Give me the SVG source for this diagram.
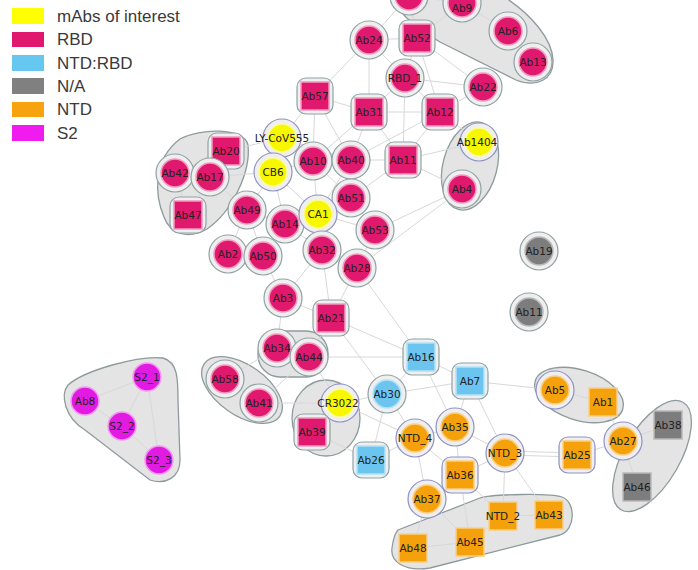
<svg xmlns="http://www.w3.org/2000/svg" width="698" height="570" viewBox="0 0 698 570">
<style>
.bg{fill:#ffffff}
.ring{fill:#efefef;stroke:#90a2a5;stroke-width:1.2}
.ringy{fill:#efefef;stroke:#8f92c4;stroke-width:1.2}
.rbd{fill:#e0186e;stroke:#f29abf;stroke-width:1.5}
.yel{fill:#f7f700;stroke:#fbfb9a;stroke-width:1.5}
.blu{fill:#6cc5ef;stroke:#b4e2f7;stroke-width:1.5}
.gry{fill:#7d7d7d;stroke:#b9b9b9;stroke-width:1.5}
.org{fill:#f5a10c;stroke:#f9cf85;stroke-width:1.5}
.s2{fill:#e21be2;stroke:#f29af2;stroke-width:1.5}
.lbl{font-family:"DejaVu Sans",sans-serif;font-size:10.5px;fill:#222222;text-anchor:middle;dominant-baseline:central}
.leg{font-family:"Liberation Sans",Arial,sans-serif;font-size:17px;fill:#3a3a3a}
.e{stroke:#d8d8d8;stroke-width:1;fill:none}
.blob{fill:#e4e4e4;stroke:#8e9b9d;stroke-width:1.3}
</style>
<rect class="bg" x="0" y="0" width="698" height="570"/>

<g id="legend">
<rect x="12" y="8" width="32" height="16" fill="#ffff00"/><text class="leg" x="57" y="22">mAbs of interest</text>
<rect x="12" y="32" width="32" height="15" fill="#e0186e"/><text class="leg" x="57" y="45">RBD</text>
<rect x="12" y="55" width="32" height="16" fill="#66c7f0"/><text class="leg" x="57" y="69">NTD:RBD</text>
<rect x="12" y="78" width="32" height="16" fill="#808080"/><text class="leg" x="57" y="92">N/A</text>
<rect x="12" y="102" width="32" height="15" fill="#f7a30f"/><text class="leg" x="57" y="115">NTD</text>
<rect x="12" y="125" width="32" height="16" fill="#ef1bef"/><text class="leg" x="57" y="139">S2</text>
</g>

<g id="clusters">
<path class="blob" d="M 392 -2 L 506 -2 C 530 14 552 38 553 60 C 554 80 536 88 516 80 L 440 42 C 420 30 400 16 392 -2 Z"/>
<ellipse class="blob" cx="470" cy="166" rx="27" ry="45" transform="rotate(15 470 166)"/>
<path class="blob" d="M 180 139 C 200 128 244 127 248 145 C 251 172 232 212 207 229 C 188 240 170 234 164 217 C 155 196 152 160 180 139 Z"/>
<rect class="blob" x="258" y="331" width="70" height="46" rx="22"/>
<ellipse class="blob" cx="242" cy="390" rx="46" ry="25" transform="rotate(35 242 390)"/>
<ellipse class="blob" cx="326" cy="418" rx="34" ry="38"/>
<path class="blob" d="M 68 385 C 85 370 140 355 163 358 C 178 362 178 380 178 400 L 180 460 C 180 478 165 485 150 480 L 85 430 C 65 418 60 395 68 385 Z"/>
<ellipse class="blob" cx="579" cy="395" rx="46" ry="25" transform="rotate(18 579 395)"/>
<ellipse class="blob" cx="652" cy="456" rx="62" ry="28" transform="rotate(-60 652 456)"/>
<path class="blob" d="M 398 530 L 480 498 C 492 494 550 493 562 497 C 576 502 576 530 560 535 L 430 568 C 405 572 390 562 392 548 C 393 540 395 533 398 530 Z"/>
</g>

<g id="connectors" class="e">
<line x1="369" y1="40" x2="417" y2="38"/>
<line x1="369" y1="40" x2="315" y2="96"/>
<line x1="369" y1="40" x2="369" y2="112"/>
<line x1="369" y1="40" x2="405" y2="78"/>
<line x1="369" y1="40" x2="409" y2="-4"/>
<line x1="417" y1="38" x2="405" y2="78"/>
<line x1="417" y1="38" x2="440" y2="112"/>
<line x1="417" y1="38" x2="483" y2="87"/>
<line x1="417" y1="38" x2="462" y2="3"/>
<line x1="417" y1="38" x2="409" y2="-4"/>
<line x1="409" y1="-4" x2="462" y2="3"/>
<line x1="462" y1="3" x2="508" y2="31"/>
<line x1="508" y1="31" x2="533" y2="62"/>
<line x1="405" y1="78" x2="369" y2="112"/>
<line x1="405" y1="78" x2="440" y2="112"/>
<line x1="405" y1="78" x2="403" y2="160"/>
<line x1="405" y1="78" x2="483" y2="87"/>
<line x1="315" y1="96" x2="369" y2="112"/>
<line x1="315" y1="96" x2="282" y2="138"/>
<line x1="315" y1="96" x2="313" y2="161"/>
<line x1="315" y1="96" x2="351" y2="160"/>
<line x1="369" y1="112" x2="313" y2="161"/>
<line x1="369" y1="112" x2="351" y2="160"/>
<line x1="369" y1="112" x2="440" y2="112"/>
<line x1="369" y1="112" x2="403" y2="160"/>
<line x1="440" y1="112" x2="403" y2="160"/>
<line x1="440" y1="112" x2="351" y2="160"/>
<line x1="440" y1="112" x2="479" y2="142"/>
<line x1="483" y1="87" x2="440" y2="112"/>
<line x1="403" y1="160" x2="351" y2="160"/>
<line x1="403" y1="160" x2="351" y2="198"/>
<line x1="403" y1="160" x2="462" y2="189"/>
<line x1="403" y1="160" x2="479" y2="142"/>
<line x1="282" y1="138" x2="273" y2="172"/>
<line x1="282" y1="138" x2="313" y2="161"/>
<line x1="282" y1="138" x2="226" y2="151"/>
<line x1="282" y1="138" x2="351" y2="160"/>
<line x1="273" y1="172" x2="210" y2="177"/>
<line x1="273" y1="172" x2="313" y2="161"/>
<line x1="273" y1="172" x2="285" y2="224"/>
<line x1="273" y1="172" x2="247" y2="210"/>
<line x1="273" y1="172" x2="318" y2="214"/>
<line x1="313" y1="161" x2="351" y2="160"/>
<line x1="313" y1="161" x2="318" y2="214"/>
<line x1="313" y1="161" x2="351" y2="198"/>
<line x1="351" y1="160" x2="351" y2="198"/>
<line x1="351" y1="160" x2="318" y2="214"/>
<line x1="351" y1="198" x2="318" y2="214"/>
<line x1="351" y1="198" x2="375" y2="230"/>
<line x1="318" y1="214" x2="285" y2="224"/>
<line x1="318" y1="214" x2="322" y2="250"/>
<line x1="318" y1="214" x2="375" y2="230"/>
<line x1="247" y1="210" x2="285" y2="224"/>
<line x1="247" y1="210" x2="228" y2="254"/>
<line x1="247" y1="210" x2="263" y2="256"/>
<line x1="285" y1="224" x2="263" y2="256"/>
<line x1="285" y1="224" x2="322" y2="250"/>
<line x1="228" y1="254" x2="263" y2="256"/>
<line x1="322" y1="250" x2="357" y2="268"/>
<line x1="375" y1="230" x2="357" y2="268"/>
<line x1="375" y1="230" x2="462" y2="189"/>
<line x1="357" y1="268" x2="462" y2="189"/>
<line x1="263" y1="256" x2="283" y2="298"/>
<line x1="322" y1="250" x2="331" y2="318"/>
<line x1="357" y1="268" x2="331" y2="318"/>
<line x1="283" y1="298" x2="331" y2="318"/>
<line x1="283" y1="298" x2="277" y2="348"/>
<line x1="322" y1="250" x2="283" y2="298"/>
<line x1="331" y1="318" x2="309" y2="357"/>
<line x1="331" y1="318" x2="421" y2="357"/>
<line x1="357" y1="268" x2="421" y2="357"/>
<line x1="331" y1="318" x2="387" y2="394"/>
<line x1="309" y1="357" x2="421" y2="357"/>
<line x1="309" y1="357" x2="340" y2="403"/>
<line x1="277" y1="348" x2="225" y2="379"/>
<line x1="277" y1="348" x2="309" y2="357"/>
<line x1="309" y1="357" x2="259" y2="403"/>
<line x1="259" y1="403" x2="340" y2="403"/>
<line x1="225" y1="379" x2="259" y2="403"/>
<line x1="340" y1="403" x2="387" y2="394"/>
<line x1="340" y1="403" x2="312" y2="432"/>
<line x1="340" y1="403" x2="415" y2="438"/>
<line x1="312" y1="432" x2="371" y2="460"/>
<line x1="387" y1="394" x2="421" y2="357"/>
<line x1="387" y1="394" x2="470" y2="381"/>
<line x1="421" y1="357" x2="470" y2="381"/>
<line x1="387" y1="394" x2="415" y2="438"/>
<line x1="387" y1="394" x2="371" y2="460"/>
<line x1="421" y1="357" x2="455" y2="427"/>
<line x1="470" y1="381" x2="455" y2="427"/>
<line x1="470" y1="381" x2="505" y2="453"/>
<line x1="470" y1="381" x2="555" y2="390"/>
<line x1="371" y1="460" x2="415" y2="438"/>
<line x1="415" y1="438" x2="455" y2="427"/>
<line x1="415" y1="438" x2="460" y2="475"/>
<line x1="415" y1="438" x2="427" y2="499"/>
<line x1="455" y1="427" x2="460" y2="475"/>
<line x1="455" y1="427" x2="505" y2="453"/>
<line x1="505" y1="451" x2="577" y2="453"/>
<line x1="505" y1="455" x2="577" y2="457"/>
<line x1="505" y1="453" x2="460" y2="475"/>
<line x1="505" y1="453" x2="503" y2="516"/>
<line x1="505" y1="453" x2="549" y2="515"/>
<line x1="460" y1="475" x2="427" y2="499"/>
<line x1="427" y1="499" x2="470" y2="542"/>
<line x1="427" y1="499" x2="413" y2="548"/>
<line x1="460" y1="475" x2="503" y2="516"/>
<line x1="460" y1="475" x2="470" y2="542"/>
<line x1="555" y1="390" x2="603" y2="402"/>
<line x1="603" y1="402" x2="623" y2="441"/>
<line x1="623" y1="441" x2="668" y2="425"/>
<line x1="623" y1="441" x2="637" y2="487"/>
<line x1="577" y1="455" x2="623" y2="441"/>
<line x1="503" y1="516" x2="549" y2="515"/>
<line x1="470" y1="542" x2="503" y2="516"/>
<line x1="413" y1="548" x2="470" y2="542"/>
<line x1="226" y1="151" x2="175" y2="173"/>
<line x1="226" y1="151" x2="210" y2="177"/>
<line x1="175" y1="173" x2="210" y2="177"/>
<line x1="210" y1="177" x2="188" y2="215"/>
<line x1="175" y1="173" x2="188" y2="215"/>
<line x1="210" y1="177" x2="247" y2="210"/>
<line x1="85" y1="401" x2="147" y2="377"/>
<line x1="85" y1="401" x2="122" y2="426"/>
<line x1="147" y1="377" x2="122" y2="426"/>
<line x1="147" y1="377" x2="159" y2="460"/>
<line x1="122" y1="426" x2="159" y2="460"/>
</g>

<g id="n_T1"><circle class="ring" cx="409" cy="-4" r="19"/><circle class="rbd" cx="409" cy="-4" r="14"/></g>
<g id="n_T2"><circle class="ring" cx="462" cy="3" r="19"/><circle class="rbd" cx="462" cy="3" r="14"/><text class="lbl" x="462" y="8">Ab9</text></g>
<g id="n_Ab6"><circle class="ring" cx="508" cy="31" r="19"/><circle class="rbd" cx="508" cy="31" r="14"/><text class="lbl" x="508" y="31">Ab6</text></g>
<g id="n_Ab13"><circle class="ring" cx="533" cy="62" r="19"/><circle class="rbd" cx="533" cy="62" r="14"/><text class="lbl" x="533" y="62">Ab13</text></g>
<g id="n_Ab24"><circle class="ring" cx="369" cy="40" r="19"/><circle class="rbd" cx="369" cy="40" r="14"/><text class="lbl" x="369" y="40">Ab24</text></g>
<g id="n_Ab52"><rect class="ring" x="399" y="20" width="36" height="36" rx="9"/><rect class="rbd" x="403" y="24" width="28" height="28"/><text class="lbl" x="417" y="38">Ab52</text></g>
<g id="n_RBD_1"><circle class="ring" cx="405" cy="78" r="19"/><circle class="rbd" cx="405" cy="78" r="14"/><text class="lbl" x="405" y="78">RBD_1</text></g>
<g id="n_Ab22"><circle class="ring" cx="483" cy="87" r="19"/><circle class="rbd" cx="483" cy="87" r="14"/><text class="lbl" x="483" y="87">Ab22</text></g>
<g id="n_Ab57"><rect class="ring" x="297" y="78" width="36" height="36" rx="9"/><rect class="rbd" x="301" y="82" width="28" height="28"/><text class="lbl" x="315" y="96">Ab57</text></g>
<g id="n_Ab31"><rect class="ring" x="351" y="94" width="36" height="36" rx="9"/><rect class="rbd" x="355" y="98" width="28" height="28"/><text class="lbl" x="369" y="112">Ab31</text></g>
<g id="n_Ab12"><rect class="ring" x="422" y="94" width="36" height="36" rx="9"/><rect class="rbd" x="426" y="98" width="28" height="28"/><text class="lbl" x="440" y="112">Ab12</text></g>
<g id="n_LY"><circle class="ringy" cx="282" cy="138" r="19"/><circle class="yel" cx="282" cy="138" r="14"/><text class="lbl" x="282" y="138">LY-CoV555</text></g>
<g id="n_Ab20"><rect class="ring" x="208" y="133" width="36" height="36" rx="9"/><rect class="rbd" x="212" y="137" width="28" height="28"/><text class="lbl" x="226" y="151">Ab20</text></g>
<g id="n_Ab42"><circle class="ring" cx="175" cy="173" r="19"/><circle class="rbd" cx="175" cy="173" r="14"/><text class="lbl" x="175" y="173">Ab42</text></g>
<g id="n_Ab17"><circle class="ring" cx="210" cy="177" r="19"/><circle class="rbd" cx="210" cy="177" r="14"/><text class="lbl" x="210" y="177">Ab17</text></g>
<g id="n_Ab47"><rect class="ring" x="170" y="197" width="36" height="36" rx="9"/><rect class="rbd" x="174" y="201" width="28" height="28"/><text class="lbl" x="188" y="215">Ab47</text></g>
<g id="n_CB6"><circle class="ringy" cx="273" cy="172" r="19"/><circle class="yel" cx="273" cy="172" r="14"/><text class="lbl" x="273" y="172">CB6</text></g>
<g id="n_Ab10"><circle class="ring" cx="313" cy="161" r="19"/><circle class="rbd" cx="313" cy="161" r="14"/><text class="lbl" x="313" y="161">Ab10</text></g>
<g id="n_Ab40"><circle class="ring" cx="351" cy="160" r="19"/><circle class="rbd" cx="351" cy="160" r="14"/><text class="lbl" x="351" y="160">Ab40</text></g>
<g id="n_Ab11"><rect class="ring" x="385" y="142" width="36" height="36" rx="9"/><rect class="rbd" x="389" y="146" width="28" height="28"/><text class="lbl" x="403" y="160">Ab11</text></g>
<g id="n_Ab1404"><circle class="ringy" cx="479" cy="142" r="19"/><circle class="yel" cx="479" cy="142" r="14"/><text class="lbl" x="477" y="142">Ab1404</text></g>
<g id="n_Ab4"><circle class="ring" cx="462" cy="189" r="19"/><circle class="rbd" cx="462" cy="189" r="14"/><text class="lbl" x="462" y="189">Ab4</text></g>
<g id="n_Ab51"><circle class="ring" cx="351" cy="198" r="19"/><circle class="rbd" cx="351" cy="198" r="14"/><text class="lbl" x="351" y="198">Ab51</text></g>
<g id="n_Ab49"><circle class="ring" cx="247" cy="210" r="19"/><circle class="rbd" cx="247" cy="210" r="14"/><text class="lbl" x="247" y="210">Ab49</text></g>
<g id="n_Ab14"><circle class="ring" cx="285" cy="224" r="19"/><circle class="rbd" cx="285" cy="224" r="14"/><text class="lbl" x="285" y="224">Ab14</text></g>
<g id="n_CA1"><circle class="ringy" cx="318" cy="214" r="19"/><circle class="yel" cx="318" cy="214" r="14"/><text class="lbl" x="318" y="214">CA1</text></g>
<g id="n_Ab53"><circle class="ring" cx="375" cy="230" r="19"/><circle class="rbd" cx="375" cy="230" r="14"/><text class="lbl" x="375" y="230">Ab53</text></g>
<g id="n_Ab2"><circle class="ring" cx="228" cy="254" r="19"/><circle class="rbd" cx="228" cy="254" r="14"/><text class="lbl" x="228" y="254">Ab2</text></g>
<g id="n_Ab50"><circle class="ring" cx="263" cy="256" r="19"/><circle class="rbd" cx="263" cy="256" r="14"/><text class="lbl" x="263" y="256">Ab50</text></g>
<g id="n_Ab32"><circle class="ring" cx="322" cy="250" r="19"/><circle class="rbd" cx="322" cy="250" r="14"/><text class="lbl" x="322" y="250">Ab32</text></g>
<g id="n_Ab28"><circle class="ring" cx="357" cy="268" r="19"/><circle class="rbd" cx="357" cy="268" r="14"/><text class="lbl" x="357" y="268">Ab28</text></g>
<g id="n_Ab3"><circle class="ring" cx="283" cy="298" r="19"/><circle class="rbd" cx="283" cy="298" r="14"/><text class="lbl" x="283" y="298">Ab3</text></g>
<g id="n_Ab21"><rect class="ring" x="313" y="300" width="36" height="36" rx="9"/><rect class="rbd" x="317" y="304" width="28" height="28"/><text class="lbl" x="331" y="318">Ab21</text></g>
<g id="n_Ab34"><circle class="ring" cx="277" cy="348" r="19"/><circle class="rbd" cx="277" cy="348" r="14"/><text class="lbl" x="277" y="348">Ab34</text></g>
<g id="n_Ab44"><circle class="ring" cx="309" cy="357" r="19"/><circle class="rbd" cx="309" cy="357" r="14"/><text class="lbl" x="309" y="357">Ab44</text></g>
<g id="n_Ab58"><circle class="ring" cx="225" cy="379" r="19"/><circle class="rbd" cx="225" cy="379" r="14"/><text class="lbl" x="225" y="379">Ab58</text></g>
<g id="n_Ab41"><circle class="ring" cx="259" cy="403" r="19"/><circle class="rbd" cx="259" cy="403" r="14"/><text class="lbl" x="259" y="403">Ab41</text></g>
<g id="n_CR3022"><circle class="ringy" cx="340" cy="403" r="19"/><circle class="yel" cx="340" cy="403" r="14"/><text class="lbl" x="338" y="403">CR3022</text></g>
<g id="n_Ab39"><rect class="ring" x="294" y="414" width="36" height="36" rx="9"/><rect class="rbd" x="298" y="418" width="28" height="28"/><text class="lbl" x="312" y="432">Ab39</text></g>
<g id="n_Ab16"><rect class="ring" x="403" y="339" width="36" height="36" rx="9"/><rect class="blu" x="407" y="343" width="28" height="28"/><text class="lbl" x="421" y="357">Ab16</text></g>
<g id="n_Ab7"><rect class="ring" x="452" y="363" width="36" height="36" rx="9"/><rect class="blu" x="456" y="367" width="28" height="28"/><text class="lbl" x="470" y="381">Ab7</text></g>
<g id="n_Ab30"><circle class="ring" cx="387" cy="394" r="19"/><circle class="blu" cx="387" cy="394" r="14"/><text class="lbl" x="387" y="394">Ab30</text></g>
<g id="n_Ab26"><rect class="ring" x="353" y="442" width="36" height="36" rx="9"/><rect class="blu" x="357" y="446" width="28" height="28"/><text class="lbl" x="371" y="460">Ab26</text></g>
<g id="n_NTD_4"><circle class="ringy" cx="415" cy="438" r="19"/><circle class="org" cx="415" cy="438" r="14"/><text class="lbl" x="415" y="438">NTD_4</text></g>
<g id="n_Ab35"><circle class="ringy" cx="455" cy="427" r="19"/><circle class="org" cx="455" cy="427" r="14"/><text class="lbl" x="455" y="427">Ab35</text></g>
<g id="n_NTD_3"><circle class="ringy" cx="505" cy="453" r="19"/><circle class="org" cx="505" cy="453" r="14"/><text class="lbl" x="505" y="453">NTD_3</text></g>
<g id="n_Ab36"><rect class="ringy" x="442" y="457" width="36" height="36" rx="9"/><rect class="org" x="446" y="461" width="28" height="28"/><text class="lbl" x="460" y="475">Ab36</text></g>
<g id="n_Ab37"><circle class="ringy" cx="427" cy="499" r="19"/><circle class="org" cx="427" cy="499" r="14"/><text class="lbl" x="427" y="499">Ab37</text></g>
<g id="n_Ab25"><rect class="ringy" x="559" y="437" width="36" height="36" rx="9"/><rect class="org" x="563" y="441" width="28" height="28"/><text class="lbl" x="577" y="455">Ab25</text></g>
<g id="n_Ab5"><circle class="ringy" cx="555" cy="390" r="19"/><circle class="org" cx="555" cy="390" r="14"/><text class="lbl" x="555" y="390">Ab5</text></g>
<g id="n_Ab1"><rect class="org" x="589" y="388" width="28" height="28"/><text class="lbl" x="603" y="402">Ab1</text></g>
<g id="n_Ab27"><circle class="ringy" cx="623" cy="441" r="19"/><circle class="org" cx="623" cy="441" r="14"/><text class="lbl" x="623" y="441">Ab27</text></g>
<g id="n_Ab38"><rect class="gry" x="654" y="411" width="28" height="28"/><text class="lbl" x="668" y="425">Ab38</text></g>
<g id="n_Ab46"><rect class="gry" x="623" y="473" width="28" height="28"/><text class="lbl" x="637" y="487">Ab46</text></g>
<g id="n_Ab43"><rect class="org" x="535" y="501" width="28" height="28"/><text class="lbl" x="549" y="515">Ab43</text></g>
<g id="n_NTD_2"><rect class="org" x="489" y="502" width="28" height="28"/><text class="lbl" x="503" y="516">NTD_2</text></g>
<g id="n_Ab45"><rect class="org" x="456" y="528" width="28" height="28"/><text class="lbl" x="470" y="542">Ab45</text></g>
<g id="n_Ab48"><rect class="org" x="399" y="534" width="28" height="28"/><text class="lbl" x="413" y="548">Ab48</text></g>
<g id="n_Ab19"><circle class="ring" cx="539" cy="251" r="19"/><circle class="gry" cx="539" cy="251" r="14"/><text class="lbl" x="539" y="251">Ab19</text></g>
<g id="n_Ab11g"><circle class="ring" cx="529" cy="312" r="19"/><circle class="gry" cx="529" cy="312" r="14"/><text class="lbl" x="529" y="312">Ab11</text></g>
<g id="n_Ab8"><circle class="s2" cx="85" cy="401" r="14"/><text class="lbl" x="85" y="401">Ab8</text></g>
<g id="n_S2_1"><circle class="s2" cx="147" cy="377" r="14"/><text class="lbl" x="147" y="377">S2_1</text></g>
<g id="n_S2_2"><circle class="s2" cx="122" cy="426" r="14"/><text class="lbl" x="122" y="426">S2_2</text></g>
<g id="n_S2_3"><circle class="s2" cx="159" cy="460" r="14"/><text class="lbl" x="159" y="460">S2_3</text></g>
</svg>
